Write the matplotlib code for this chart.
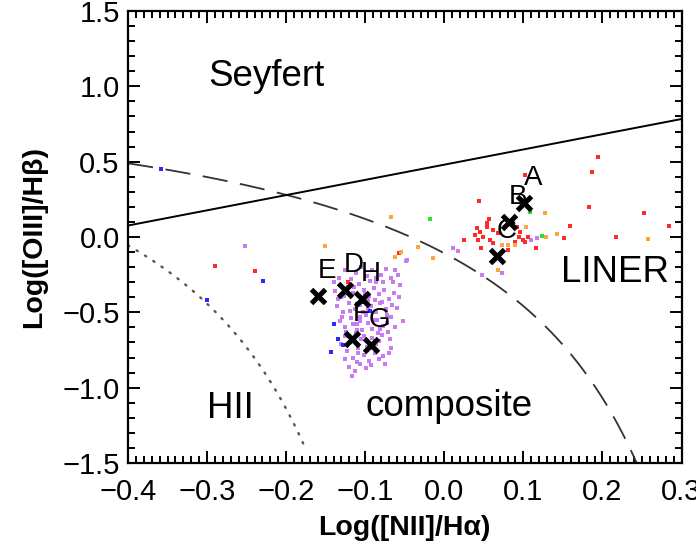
import numpy as np
import matplotlib
matplotlib.use("Agg")
import matplotlib.pyplot as plt
from matplotlib.ticker import MultipleLocator

plt.rcParams['font.family'] = ['Liberation Sans', 'DejaVu Sans']

# galaxy samples, one colour per class
purple_x = [-0.140, -0.133, -0.125, -0.118, -0.112, -0.105, -0.098, -0.092, -0.086, -0.080,
            -0.074, -0.068, -0.062, -0.056, -0.048, -0.077, -0.138, -0.130, -0.122, -0.115,
            -0.108, -0.101, -0.095, -0.089, -0.083, -0.076, -0.070, -0.064, -0.136, -0.128,
            -0.121, -0.113, -0.106, -0.099, -0.093, -0.087, -0.081, -0.074, -0.067, -0.060,
            -0.132, -0.125, -0.118, -0.111, -0.104, -0.097, -0.091, -0.085, -0.078, -0.071,
            -0.052, -0.126, -0.119, -0.112, -0.105, -0.098, -0.092, -0.086, -0.079, -0.069,
            -0.123, -0.116, -0.109, -0.102, -0.095, -0.088, -0.082, -0.077, -0.120, -0.113,
            -0.106, -0.099, -0.117, -0.110, -0.096, -0.084, -0.127, -0.103, -0.090, -0.072,
            -0.065, -0.058, -0.252, 0.011, 0.017, -0.047, 0.048, 0.073, 0.117, 0.110,
            -0.135, -0.114, -0.094, -0.079, -0.066, -0.129, -0.107, -0.088, -0.073, -0.057,
            -0.124, -0.101, -0.083, -0.068, -0.131, -0.109, -0.093, -0.075, -0.115, -0.097,
            -0.081, -0.062, -0.119, -0.100, -0.087, -0.107, -0.091, -0.111, -0.126, -0.070]
purple_y = [-0.30, -0.27, -0.22, -0.28, -0.24, -0.20, -0.26, -0.22, -0.30, -0.25,
            -0.21, -0.27, -0.22, -0.32, -0.16, -0.30, -0.36, -0.40, -0.33, -0.37,
            -0.31, -0.35, -0.39, -0.34, -0.38, -0.35, -0.41, -0.37, -0.46, -0.50,
            -0.44, -0.48, -0.45, -0.52, -0.46, -0.50, -0.44, -0.48, -0.53, -0.47,
            -0.56, -0.60, -0.54, -0.58, -0.62, -0.57, -0.61, -0.55, -0.59, -0.63,
            -0.56, -0.66, -0.70, -0.64, -0.68, -0.73, -0.67, -0.71, -0.65, -0.68,
            -0.76, -0.80, -0.74, -0.78, -0.82, -0.77, -0.81, -0.79, -0.86, -0.89,
            -0.84, -0.87, -0.92, -0.62, -0.42, -0.64, -0.39, -0.50, -0.55, -0.57,
            -0.30, -0.25, -0.06, -0.07, -0.09, -0.15, -0.25, -0.24, -0.01, -0.02,
            -0.41, -0.33, -0.29, -0.43, -0.45, -0.53, -0.56, -0.42, -0.52, -0.40,
            -0.63, -0.66, -0.69, -0.74, -0.71, -0.77, -0.85, -0.84, -0.58, -0.48,
            -0.61, -0.60, -0.49, -0.38, -0.27, -0.53, -0.74, -0.83, -0.81, -0.77]

red_x = [0.194, 0.187, 0.102, 0.044, 0.183, 0.253, 0.057, 0.284, 0.159, 0.217,
         0.151, 0.116, 0.025, 0.041, 0.045, 0.039, 0.049, 0.054, 0.062, 0.043,
         0.058, 0.062, 0.047, 0.068, 0.092, 0.096, 0.094, 0.100, 0.106, 0.102,
         0.081, 0.089, 0.054, -0.057, -0.290, -0.239, -0.122]
red_y = [0.53, 0.43, 0.41, 0.24, 0.20, 0.16, 0.12, 0.07, 0.07, 0.00,
         -0.01, -0.07, -0.02, 0.057, 0.035, 0.013, 0.002, 0.068, 0.046, -0.020,
         -0.020, -0.041, -0.074, 0.024, 0.068, 0.035, 0.002, -0.020, 0.002, -0.031,
         -0.086, -0.031, 0.090, -0.108, -0.19, -0.228, -0.30]

orange_x = [-0.151, -0.067, -0.033, -0.062, -0.014, 0.127, 0.142, 0.257, 0.103, 0.073,
            0.081, 0.089, 0.068, 0.129, -0.055]
orange_y = [-0.059, 0.134, -0.064, -0.13, -0.14, 0.16, 0.018, -0.011, 0.064, -0.053,
            -0.053, -0.053, -0.217, 0.002, -0.10]

green_x = [-0.018, 0.108, 0.123]
green_y = [0.118, 0.167, 0.007]

blue_x = [-0.358, -0.300, -0.229, -0.140, -0.134, -0.143, -0.128, -0.094]
blue_y = [0.454, -0.419, -0.294, -0.579, -0.678, -0.761, -0.720, -0.491]

# labelled regions
reg_names = ['A', 'B', 'C', 'D', 'E', 'F', 'G', 'H']
reg_x = [0.101, 0.082, 0.067, -0.126, -0.160, -0.117, -0.093, -0.104]
reg_y = [0.224, 0.099, -0.125, -0.355, -0.395, -0.678, -0.717, -0.414]

fig = plt.figure(figsize=(6.96, 5.41), dpi=100)
ax = fig.add_axes([0.1839, 0.1442, 0.7953, 0.8355])

ms = 2.5
ax.plot(purple_x, purple_y, 's', ms=ms, mew=0, color='#c77cf2')
ax.plot(red_x, red_y, 's', ms=ms, mew=0, color='#ff2a2a')
ax.plot(orange_x, orange_y, 's', ms=ms, mew=0, color='#ffa43a')
ax.plot(green_x, green_y, 's', ms=ms, mew=0, color='#2fe02f')
ax.plot(blue_x, blue_y, 's', ms=ms, mew=0, color='#2a2aff')

# Kewley et al. 2001 maximum starburst line
xk = np.linspace(-0.4, 0.3, 400)
yk = 0.61 / (xk - 0.47) + 1.19
ax.plot(xk, yk, color='#333333', lw=1.3, dashes=(14, 7))

# Kauffmann et al. 2003 line
xf = np.linspace(-0.4, -0.176, 200)
yf = 0.61 / (xf - 0.05) + 1.3
ax.plot(xf, yf, color='#555555', lw=1.7, dashes=(0.6, 3.6), dash_capstyle='round')

# Seyfert / LINER division
xs = np.array([-0.4, 0.3])
ax.plot(xs, 1.01 * xs + 0.48, color='black', lw=1.4)

ax.plot(reg_x, reg_y, 'x', ms=10, mew=3.6, color='black')
for n, x, y in zip(reg_names, reg_x, reg_y):
    ax.annotate(n, (x, y), xytext=(6.5, 18), textcoords='offset points',
                ha='center', va='center', fontsize=20)

ax.text(-0.225, 1.0, 'Seyfert', fontsize=26.5, ha='center', va='baseline')
ax.text(0.216, -0.296, 'LINER', fontsize=26.5, ha='center', va='baseline')
ax.text(-0.270, -1.204, 'HII', fontsize=26.5, ha='center', va='baseline')
ax.text(0.006, -1.19, 'composite', fontsize=26.5, ha='center', va='baseline')

ax.set_xlim(-0.4, 0.3)
ax.set_ylim(-1.5, 1.5)
ax.xaxis.set_major_locator(MultipleLocator(0.1))
ax.xaxis.set_minor_locator(MultipleLocator(0.01))
ax.yaxis.set_major_locator(MultipleLocator(0.5))
ax.yaxis.set_minor_locator(MultipleLocator(0.1))
ax.xaxis.set_major_formatter(plt.FuncFormatter(lambda v, p: f'{v:.1f}'.replace('-', '\u2212')))
ax.yaxis.set_major_formatter(plt.FuncFormatter(lambda v, p: f'{v:.1f}'.replace('-', '\u2212')))
ax.tick_params(which='both', direction='in', top=True, right=True, width=1.4, labelsize=21)
ax.tick_params(which='major', length=8.5)
ax.tick_params(which='minor', length=5)
ax.tick_params(axis='x', pad=11)
ax.tick_params(axis='y', pad=6)
for s in ax.spines.values():
    s.set_linewidth(1.6)

ax.set_xlabel('Log([NII]/H\u03b1)', fontsize=20.5, fontweight='bold', labelpad=6)
ax.set_ylabel('Log([OIII]/H\u03b2)', fontsize=20.5, fontweight='bold', labelpad=11)

fig.savefig('out.png', dpi=100)
